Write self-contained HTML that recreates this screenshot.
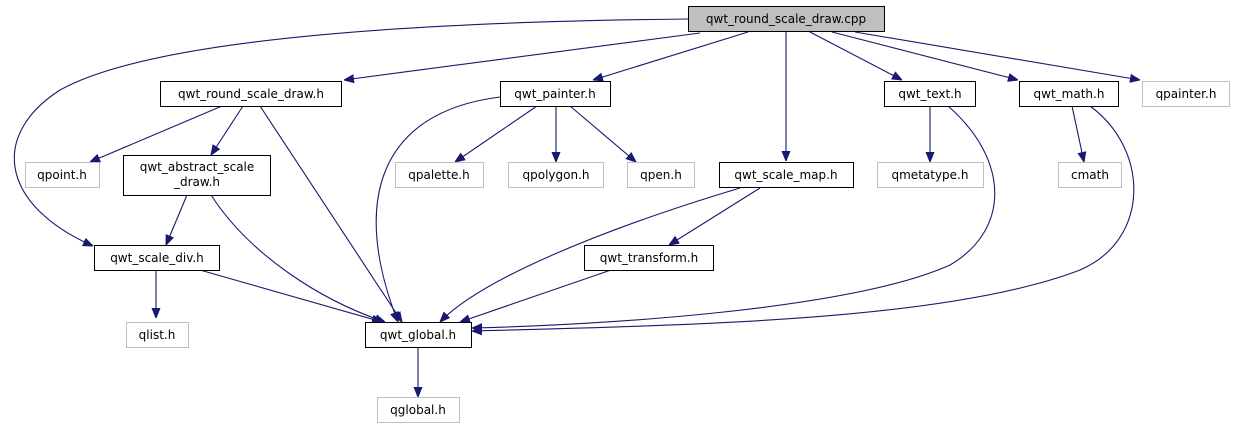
<!DOCTYPE html>
<html><head><meta charset="utf-8"><style>
body{margin:0;background:#fff}
svg text{font-family:"DejaVu Sans","Liberation Sans",sans-serif;font-size:12px;text-anchor:middle}
</style></head><body>
<svg width="1235" height="425" viewBox="0 0 1235 425" xmlns="http://www.w3.org/2000/svg">
<defs><marker id="a" viewBox="0 0 10 10" refX="10" refY="5" markerWidth="10" markerHeight="10" markerUnits="userSpaceOnUse" orient="auto"><path d="M0,1 L10,5 L0,9 z" fill="#191970" stroke="#191970"/></marker></defs>
<g fill="none" stroke="#191970" stroke-width="1.1" marker-end="url(#a)">
<path d="M700,33 L344,80"/>
<path d="M748,32 L593,80"/>
<path d="M688,19 C400,22 150,40 60,90 C-10,135 0,205 93,246"/>
<path d="M786,32 L786,161"/>
<path d="M810,32 L902,80"/>
<path d="M832,32 L1018,80"/>
<path d="M855,32 L1140,80"/>
<path d="M222,106 L90,162"/>
<path d="M243,106 L211,155"/>
<path d="M260,106 L402,322"/>
<path d="M500,97 C380,112 350,200 398,322"/>
<path d="M537,106 L455,162"/>
<path d="M556,106 L556,162"/>
<path d="M570,106 L636,162"/>
<path d="M187,195 L166,245"/>
<path d="M211,195 C250,255 320,300 385,322"/>
<path d="M156,270 L156,318"/>
<path d="M200,270 L382,322"/>
<path d="M760,188 L669,245"/>
<path d="M740,188 C600,230 480,280 440,322"/>
<path d="M611,270 L460,322"/>
<path d="M930,106 L930,162"/>
<path d="M948,106 C1010,160 1010,230 950,265 C850,310 600,325 472,328"/>
<path d="M1072,106 L1084,162"/>
<path d="M1090,106 C1150,150 1150,240 1080,270 C950,320 700,325 472,331"/>
<path d="M418,347 L418,397"/>
</g>
<g stroke-width="1">
<rect x="688.5" y="6.5" width="196" height="25" fill="#bfbfbf" stroke="#000"/>
<text x="786" y="23">qwt_round_scale_draw.cpp</text>
<rect x="160.5" y="81.5" width="181" height="25" fill="#fff" stroke="#000"/>
<text x="251" y="98">qwt_round_scale_draw.h</text>
<rect x="500.5" y="81.5" width="110" height="25" fill="#fff" stroke="#000"/>
<text x="555" y="98">qwt_painter.h</text>
<rect x="884.5" y="81.5" width="91" height="25" fill="#fff" stroke="#000"/>
<text x="930" y="98">qwt_text.h</text>
<rect x="1019.5" y="81.5" width="99" height="25" fill="#fff" stroke="#000"/>
<text x="1069" y="98">qwt_math.h</text>
<rect x="1142.5" y="81.5" width="87" height="25" fill="#fff" stroke="#bfbfbf"/>
<text x="1186" y="98">qpainter.h</text>
<rect x="25.5" y="162.5" width="74" height="25" fill="#fff" stroke="#bfbfbf"/>
<text x="62" y="179">qpoint.h</text>
<rect x="123.5" y="155.5" width="147" height="40" fill="#fff" stroke="#000"/>
<text x="197" y="171">qwt_abstract_scale</text>
<text x="197" y="186">_draw.h</text>
<rect x="395.5" y="162.5" width="88" height="25" fill="#fff" stroke="#bfbfbf"/>
<text x="439" y="179">qpalette.h</text>
<rect x="508.5" y="162.5" width="95" height="25" fill="#fff" stroke="#bfbfbf"/>
<text x="556" y="179">qpolygon.h</text>
<rect x="627.5" y="162.5" width="67" height="25" fill="#fff" stroke="#bfbfbf"/>
<text x="661" y="179">qpen.h</text>
<rect x="719.5" y="162.5" width="134" height="25" fill="#fff" stroke="#000"/>
<text x="786" y="179">qwt_scale_map.h</text>
<rect x="877.5" y="162.5" width="106" height="25" fill="#fff" stroke="#bfbfbf"/>
<text x="930" y="179">qmetatype.h</text>
<rect x="1058.5" y="162.5" width="63" height="25" fill="#fff" stroke="#bfbfbf"/>
<text x="1090" y="179">cmath</text>
<rect x="94.5" y="245.5" width="125" height="25" fill="#fff" stroke="#000"/>
<text x="157" y="262">qwt_scale_div.h</text>
<rect x="584.5" y="245.5" width="129" height="25" fill="#fff" stroke="#000"/>
<text x="649" y="262">qwt_transform.h</text>
<rect x="126.5" y="322.5" width="62" height="25" fill="#fff" stroke="#bfbfbf"/>
<text x="157" y="339">qlist.h</text>
<rect x="365.5" y="322.5" width="106" height="25" fill="#fff" stroke="#000"/>
<text x="418" y="339">qwt_global.h</text>
<rect x="377.5" y="397.5" width="82" height="25" fill="#fff" stroke="#bfbfbf"/>
<text x="418" y="414">qglobal.h</text>
</g>
</svg>
</body></html>
